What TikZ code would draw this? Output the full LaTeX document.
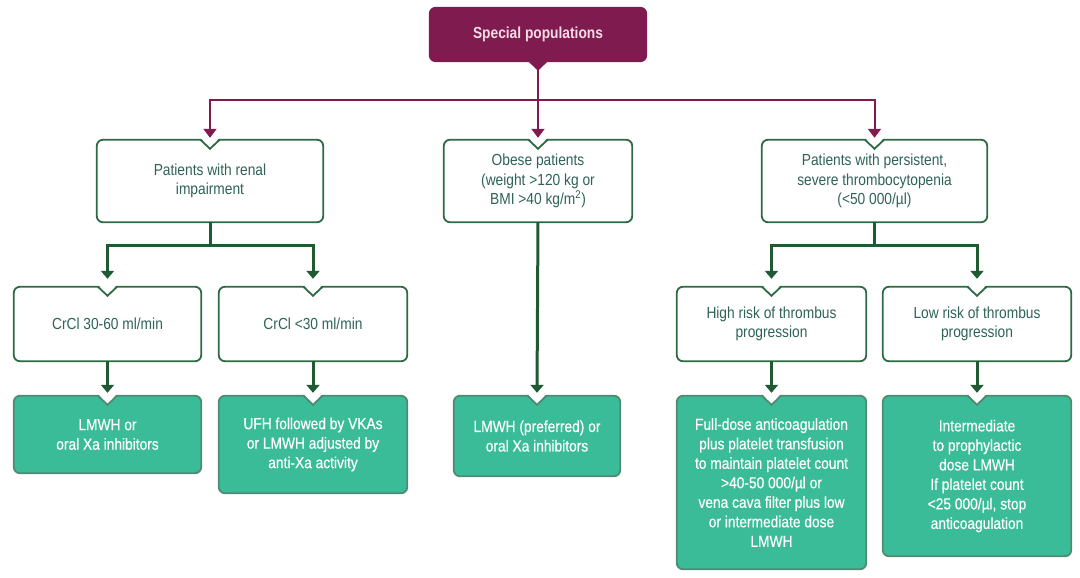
\documentclass[tikz,border=0pt]{standalone}
\usepackage{fontspec}
\setmainfont{Liberation Sans}[FakeStretch=0.86]
\newfontfamily\gfont{Liberation Sans}[FakeStretch=0.86, FakeBold=0.4]
\usetikzlibrary{arrows.meta,calc}
\definecolor{maroon}{HTML}{801B4F}
\definecolor{toptext}{HTML}{F5DDE7}
\definecolor{bordergreen}{HTML}{2E6B45}
\definecolor{linegreen}{HTML}{1F5A32}
\definecolor{textgreen}{HTML}{2F6357}
\definecolor{fillgreen}{HTML}{3BBC98}
\definecolor{gborder}{HTML}{4F8A71}
\pgfdeclarelayer{background}
\pgfsetlayers{background,main}
\newcommand\notchedbox[3]{%
  \draw[rounded corners=6pt, fill=#2, draw=#3, line width=1.8pt] (#1.north west) rectangle (#1.south east);
  \fill[white] ($(#1.north)+(-9,-1.6)$) -- ($(#1.north)+(9,-1.6)$) -- ($(#1.north)+(0,9)$) -- cycle;
  \draw[draw=#3, line width=1.8pt, line join=miter] ($(#1.north)+(-9.5,0)$) -- ($(#1.north)+(0,9)$) -- ($(#1.north)+(9.5,0)$);
}
\begin{document}
\begin{tikzpicture}[x=1pt,y=-1pt,
  box/.style={inner sep=0pt, align=center, font=\fontsize{16}{19.5}\selectfont},
  wbox/.style={box, text=textgreen},
  gbox/.style={box, text=white, font=\fontsize{16}{19.5}\selectfont\gfont},
  mline/.style={line width=2pt, draw=maroon},
  mconn/.style={mline, -{Triangle[width=13pt,length=9pt]}},
  gline/.style={line width=3pt, draw=linegreen},
  gconn/.style={gline, -{Triangle[width=13pt,length=8pt]}}
]
\useasboundingbox (0,0) rectangle (1080,578);

% top
\node[box, font=\fontsize{16}{19}\selectfont\bfseries, text=toptext, minimum width=218pt, minimum height=55pt] (sp) at (538,34.5) {Special populations};

% level 1
\node[wbox, minimum width=226pt, minimum height=82pt] (renal) at (210,181) {Patients with renal\\impairment};
\node[wbox, minimum width=188pt, minimum height=82pt] (obese) at (538,181) {Obese patients\\(weight >120 kg or\\BMI >40 kg/m\textsuperscript{2})};
\node[wbox, minimum width=225pt, minimum height=82pt] (thromb) at (874.5,181) {Patients with persistent,\\severe thrombocytopenia\\(<50 000/µl)};

% level 2
\node[wbox, minimum width=187pt, minimum height=74pt] (crclA) at (107.5,324) {CrCl 30-60 ml/min};
\node[wbox, minimum width=188pt, minimum height=74pt] (crclB) at (313,324) {CrCl <30 ml/min};
\node[wbox, minimum width=189pt, minimum height=74pt] (high) at (771.5,324) {High risk of thrombus\\progression};
\node[wbox, minimum width=188pt, minimum height=74pt] (low) at (977,324) {Low risk of thrombus\\progression};

% level 3
\node[gbox, minimum width=187pt, minimum height=77pt] (resA) at (107.5,434.5) {LMWH or\\oral Xa inhibitors};
\node[gbox, minimum width=188pt, minimum height=97pt] (resB) at (313,444.5) {UFH followed by VKAs\\or LMWH adjusted by\\anti-Xa activity};
\node[gbox, minimum width=166pt, minimum height=80pt] (resC) at (537,436) {LMWH (preferred) or\\oral Xa inhibitors};
\node[gbox, minimum width=189pt, minimum height=173pt] (resD) at (771.5,482.5) {Full-dose anticoagulation\\plus platelet transfusion\\to maintain platelet count\\>40-50 000/µl or\\vena cava filter plus low\\or intermediate dose\\LMWH};
\node[gbox, minimum width=188pt, minimum height=160pt] (resE) at (977,476) {Intermediate\\to prophylactic\\dose LMWH\\If platelet count\\<25 000/µl, stop\\anticoagulation};

\begin{pgfonlayer}{background}
  \fill[maroon, rounded corners=7pt] (sp.north west) rectangle (sp.south east);
  \fill[maroon] ($(sp.south)+(-10,-1)$) -- ($(sp.south)+(10,-1)$) -- ($(sp.south)+(0,8.5)$) -- cycle;
  \notchedbox{renal}{white}{bordergreen}
  \notchedbox{obese}{white}{bordergreen}
  \notchedbox{thromb}{white}{bordergreen}
  \notchedbox{crclA}{white}{bordergreen}
  \notchedbox{crclB}{white}{bordergreen}
  \notchedbox{high}{white}{bordergreen}
  \notchedbox{low}{white}{bordergreen}
  \notchedbox{resA}{fillgreen}{gborder}
  \notchedbox{resB}{fillgreen}{gborder}
  \notchedbox{resC}{fillgreen}{gborder}
  \notchedbox{resD}{fillgreen}{gborder}
  \notchedbox{resE}{fillgreen}{gborder}
\end{pgfonlayer}

% connectors
\coordinate (hub) at (538,100);
\coordinate (rhub) at (210,245);
\coordinate (thub) at (874.5,245);

\draw[mline] (sp.south) -- (hub);
\draw[mconn] (hub) -| ($(renal.north)+(0,-2)$);
\draw[mconn] (hub) -- ($(obese.north)+(0,-2)$);
\draw[mconn] (hub) -| ($(thromb.north)+(0,-2)$);

\draw[gline] (renal.south) -- (rhub);
\draw[gconn] (rhub) -| ($(crclA.north)+(0,-8)$);
\draw[gconn] (rhub) -| ($(crclB.north)+(0,-8)$);
\draw[gline] (thromb.south) -- (thub);
\draw[gconn] (thub) -| ($(high.north)+(0,-8)$);
\draw[gconn] (thub) -| ($(low.north)+(0,-8)$);

\draw[gconn] (crclA.south) -- ($(resA.north)+(0,-3)$);
\draw[gconn] (crclB.south) -- ($(resB.north)+(0,-3)$);
\draw[gconn] (obese.south) -- ($(resC.north)+(0,-3)$);
\draw[gconn] (high.south) -- ($(resD.north)+(0,-3)$);
\draw[gconn] (low.south) -- ($(resE.north)+(0,-3)$);
\end{tikzpicture}
\end{document}
